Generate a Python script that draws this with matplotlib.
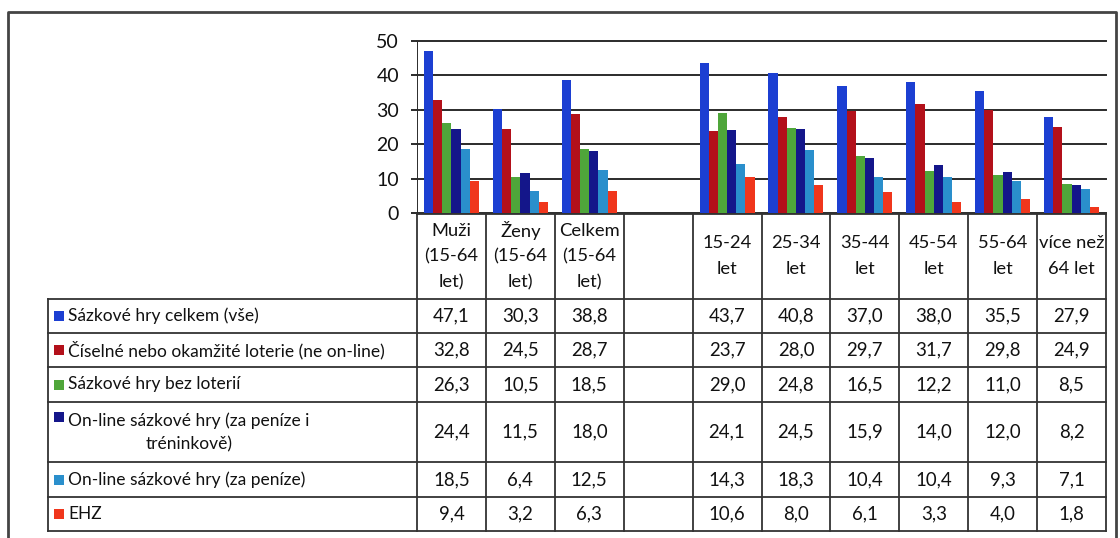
import matplotlib
matplotlib.use("Agg")
import matplotlib.pyplot as plt
import numpy as np

plt.rcParams['font.family'] = ['Lato', 'DejaVu Sans']

# Column headings (the fourth column is an empty spacer)
categories = ["Muži\n(15-64\nlet)", "Ženy\n(15-64\nlet)", "Celkem\n(15-64\nlet)", "",
              "15-24\nlet", "25-34\nlet", "35-44\nlet", "45-54\nlet", "55-64\nlet",
              "více než\n64 let"]

series_names = [
    "Sázkové hry celkem (vše)",
    "Číselné nebo okamžité loterie (ne on-line)",
    "Sázkové hry bez loterií",
    "On-line sázkové hry (za peníze i\ntréninkově)",
    "On-line sázkové hry (za peníze)",
    "EHZ",
]

celkem_vse = [47.1, 30.3, 38.8, None, 43.7, 40.8, 37.0, 38.0, 35.5, 27.9]
loterie = [32.8, 24.5, 28.7, None, 23.7, 28.0, 29.7, 31.7, 29.8, 24.9]
bez_loterii = [26.3, 10.5, 18.5, None, 29.0, 24.8, 16.5, 12.2, 11.0, 8.5]
online_vse = [24.4, 11.5, 18.0, None, 24.1, 24.5, 15.9, 14.0, 12.0, 8.2]
online_penize = [18.5, 6.4, 12.5, None, 14.3, 18.3, 10.4, 10.4, 9.3, 7.1]
ehz = [9.4, 3.2, 6.3, None, 10.6, 8.0, 6.1, 3.3, 4.0, 1.8]

series = [celkem_vse, loterie, bez_loterii, online_vse, online_penize, ehz]
colors = ["#1c3fd2", "#b3101a", "#4fa63a", "#14168a", "#2a8fcc", "#f0361c"]

yticks = [0, 10, 20, 30, 40, 50]

W, H = 1120, 538
fig = plt.figure(figsize=(W / 100, H / 100), dpi=100)
fig.patch.set_facecolor("white")

# pixel layout
x0, x1 = 417, 1106          # table value columns / plot area
y_top, y_zero = 41, 213     # plot area top (50) and baseline (0)
ncol = len(categories)
colw = (x1 - x0) / ncol


def fx(px):
    return px / W


def fy(py):
    return 1 - py / H


# ---- bar chart ----
ax = fig.add_axes([fx(x0), fy(y_zero), fx(x1) - fx(x0), fy(y_top) - fy(y_zero)])
ax.set_xlim(0, ncol)
ax.set_ylim(0, 50)
bw = 0.133
for k, (vals, c) in enumerate(zip(series, colors)):
    xs = [i + 0.5 + (k - 2.5) * bw for i, v in enumerate(vals) if v is not None]
    hs = [v for v in vals if v is not None]
    ax.bar(xs, hs, width=bw, color=c, zorder=3, linewidth=0)
for s in ax.spines.values():
    s.set_visible(False)
ax.set_xticks([])
ax.set_yticks(yticks)
ax.set_yticklabels([str(t) for t in yticks], fontsize=14)
ax.tick_params(axis="y", length=0, pad=13, labelcolor="#111111")
for t in yticks:
    ax.axhline(t, color="#2b2b2b", lw=1.4, zorder=1, clip_on=False)
# short tick stubs left of the axis
ax.hlines(yticks, -6 / colw, 0, color="#2b2b2b", lw=1.4, clip_on=False)
ax.axvline(0, color="#2b2b2b", lw=1.4, zorder=1)

# ---- data table ----
ov = fig.add_axes([0, 0, 1, 1])
ov.set_xlim(0, W)
ov.set_ylim(H, 0)
ov.axis("off")

lc = "#333333"
lw = 1.3
row_edges = [214, 299, 333, 367, 402, 462, 497, 531]
leg_left = 48

# outer frame
ov.plot([8, 8, 1116, 1116], [H + 5, 12, 12, H + 5], color="#444444", lw=2.0)

# horizontal table lines
ov.plot([x0, x1], [row_edges[0], row_edges[0]], color=lc, lw=lw)
for y in row_edges[1:]:
    ov.plot([leg_left, x1], [y, y], color=lc, lw=lw)
# vertical table lines
for i in range(ncol + 1):
    xx = x0 + i * colw
    ov.plot([xx, xx], [row_edges[0], row_edges[-1]], color=lc, lw=lw)
ov.plot([leg_left, leg_left], [row_edges[1], row_edges[-1]], color=lc, lw=lw)

# header cells
for i, lab in enumerate(categories):
    if not lab:
        continue
    lines = lab.split("\n")
    cx = x0 + (i + 0.5) * colw
    step = 26
    yc = (row_edges[0] + row_edges[1]) / 2
    start = yc - step * (len(lines) - 1) / 2
    for j, ln in enumerate(lines):
        ov.text(cx, start + j * step, ln, ha="center", va="center",
                fontsize=13.2, color="#111111")

# legend + value rows
for r, (name, vals, c) in enumerate(zip(series_names, series, colors)):
    ya, yb = row_edges[r + 1], row_edges[r + 2]
    yc = (ya + yb) / 2
    first_line_y = yc if "\n" not in name else ya + 15
    ov.add_patch(plt.Rectangle((54, first_line_y - 5), 10, 10, color=c, lw=0))
    ov.text(68, yc, name, ha="left", va="center", fontsize=12.5,
            multialignment="center", linespacing=1.55, color="#111111")
    for i, v in enumerate(vals):
        if v is None:
            continue
        ov.text(x0 + (i + 0.5) * colw, yc, f"{v:.1f}".replace(".", ","),
                ha="center", va="center", fontsize=13.4, color="#111111")

fig.savefig("out.png", dpi=100, facecolor="white")
